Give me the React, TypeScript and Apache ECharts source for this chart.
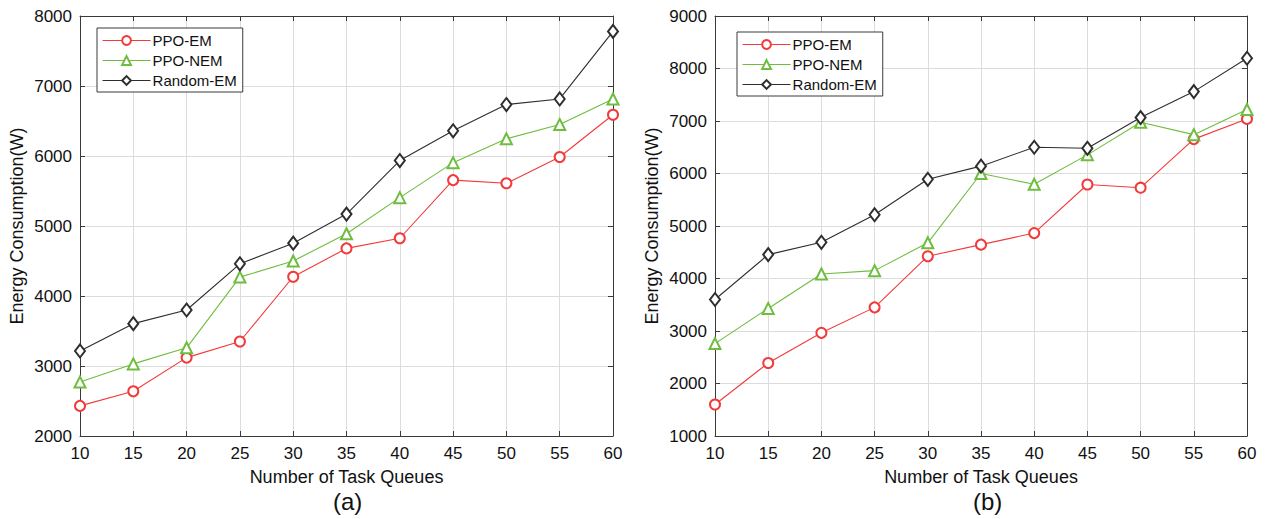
import React, { useEffect, useRef } from "react";
import * as echarts from "echarts";

const taskQueues = [10, 15, 20, 25, 30, 35, 40, 45, 50, 55, 60];
const xTicks = { min: 10, max: 60, interval: 5 };

// Panel (a)
const aPpoEm = [2430, 2640, 3120, 3350, 4275, 4680, 4825, 5655, 5610, 5985, 6590];
const aPpoNem = [2770, 3030, 3260, 4270, 4500, 4890, 5405, 5905, 6245, 6450, 6815];
const aRandomEm = [3215, 3605, 3800, 4460, 4755, 5170, 5935, 6360, 6735, 6815, 7780];
const aYTicks = { min: 2000, max: 8000, interval: 1000 };

// Panel (b)
const bPpoEm = [1600, 2390, 2965, 3450, 4425, 4645, 4865, 5790, 5730, 6655, 7040];
const bPpoNem = [2760, 3430, 4085, 4150, 4680, 6000, 5795, 6355, 6975, 6740, 7220];
const bRandomEm = [3600, 4455, 4690, 5215, 5890, 6140, 6500, 6480, 7065, 7560, 8195];
const bYTicks = { min: 1000, max: 9000, interval: 1000 };

const seriesNames = ["PPO-EM", "PPO-NEM", "Random-EM"];
const seriesColors = ["#f23a3a", "#6fbd3e", "#2e2e2e"];
const seriesSymbols = ["emptyCircle", "emptyTriangle", "emptyDiamond"];
const seriesSymbolSizes: any[] = [10, 11, [10, 13]];

const FONT = "Liberation Sans, Arial, sans-serif";

export default function App() {
  const ref = useRef<HTMLDivElement>(null);
  useEffect(() => {
    if (!ref.current) return;
    const chart = echarts.init(ref.current, undefined, { renderer: "svg" });

    const grids = [
      { left: 80, top: 16, width: 533, height: 420 },
      { left: 715, top: 16, width: 532, height: 420 },
    ];
    const yTicksList = [aYTicks, bYTicks];
    const panelData = [
      [aPpoEm, aPpoNem, aRandomEm],
      [bPpoEm, bPpoNem, bRandomEm],
    ];

    const axisLineStyle = { color: "#3a3a3a", width: 1 };
    const gridLine = { show: true, lineStyle: { color: "#dcdcdc", width: 1 } };

    const xAxis: any[] = [];
    const yAxis: any[] = [];
    grids.forEach((_, gi) => {
      xAxis.push({
        type: "value",
        gridIndex: gi,
        position: "bottom",
        ...xTicks,
        name: "Number of Task Queues",
        nameLocation: "middle",
        nameGap: 32,
        nameTextStyle: { fontFamily: FONT, fontSize: 18, color: "#111" },
        axisLine: { show: true, onZero: false, lineStyle: axisLineStyle },
        axisTick: { show: true, inside: true, length: 5, lineStyle: axisLineStyle },
        axisLabel: { fontFamily: FONT, fontSize: 17, color: "#111", margin: 9 },
        splitLine: gridLine,
      });
      xAxis.push({
        type: "value",
        gridIndex: gi,
        position: "top",
        ...xTicks,
        axisLine: { show: true, onZero: false, lineStyle: axisLineStyle },
        axisTick: { show: true, inside: true, length: 5, lineStyle: axisLineStyle },
        axisLabel: { show: false },
        splitLine: { show: false },
      });
      yAxis.push({
        type: "value",
        gridIndex: gi,
        position: "left",
        ...yTicksList[gi],
        name: "Energy Consumption(W)",
        nameLocation: "middle",
        nameGap: 54,
        nameTextStyle: { fontFamily: FONT, fontSize: 18, color: "#111" },
        axisLine: { show: true, onZero: false, lineStyle: axisLineStyle },
        axisTick: { show: true, inside: true, length: 5, lineStyle: axisLineStyle },
        axisLabel: {
          fontFamily: FONT,
          fontSize: 17,
          color: "#111",
          margin: 8,
          formatter: (v: number) => String(v),
        },
        splitLine: gridLine,
      });
      yAxis.push({
        type: "value",
        gridIndex: gi,
        position: "right",
        ...yTicksList[gi],
        axisLine: { show: true, onZero: false, lineStyle: axisLineStyle },
        axisTick: { show: true, inside: true, length: 5, lineStyle: axisLineStyle },
        axisLabel: { show: false },
        splitLine: { show: false },
      });
    });

    const series: any[] = [];
    grids.forEach((_, gi) => {
      seriesNames.forEach((name, si) => {
        series.push({
          type: "line",
          name,
          xAxisIndex: gi * 2,
          yAxisIndex: gi * 2,
          data: taskQueues.map((x, i) => [x, panelData[gi][si][i]]),
          symbol: seriesSymbols[si],
          symbolSize: seriesSymbolSizes[si],
          showAllSymbol: true,
          lineStyle: { color: seriesColors[si], width: 1.1 },
          itemStyle: { color: seriesColors[si], borderWidth: 1 },
          z: 3 + si,
        });
      });
    });

    const legendBase = {
      orient: "vertical",
      itemWidth: 48,
      itemHeight: 11,
      itemGap: 5,
      padding: [5, 6, 4, 5],
      borderColor: "#3a3a3a",
      borderWidth: 1,
      backgroundColor: "#fff",
      data: seriesNames,
      itemStyle: { borderWidth: 1 },
      lineStyle: { width: 1.1 },
      textStyle: {
        fontFamily: FONT,
        fontSize: 15,
        color: "#111",
        lineHeight: 15,
        padding: [0, 0, 0, -3],
      },
    };

    chart.setOption({
      animation: false,
      backgroundColor: "#fff",
      grid: grids,
      xAxis,
      yAxis,
      series,
      legend: [
        { ...legendBase, left: 97, top: 28 },
        { ...legendBase, left: 737, top: 32 },
      ],
      graphic: [
        {
          type: "text",
          left: 333,
          top: 489,
          style: { text: "(a)", fontFamily: FONT, fontSize: 24, fill: "#111" },
        },
        {
          type: "text",
          left: 973,
          top: 489,
          style: { text: "(b)", fontFamily: FONT, fontSize: 24, fill: "#111" },
        },
      ],
    });
    return () => chart.dispose();
  }, []);
  return (
    <div
      ref={ref}
      style={{ position: "fixed", left: 0, top: 0, width: 1265, height: 519, background: "#fff" }}
    />
  );
}
